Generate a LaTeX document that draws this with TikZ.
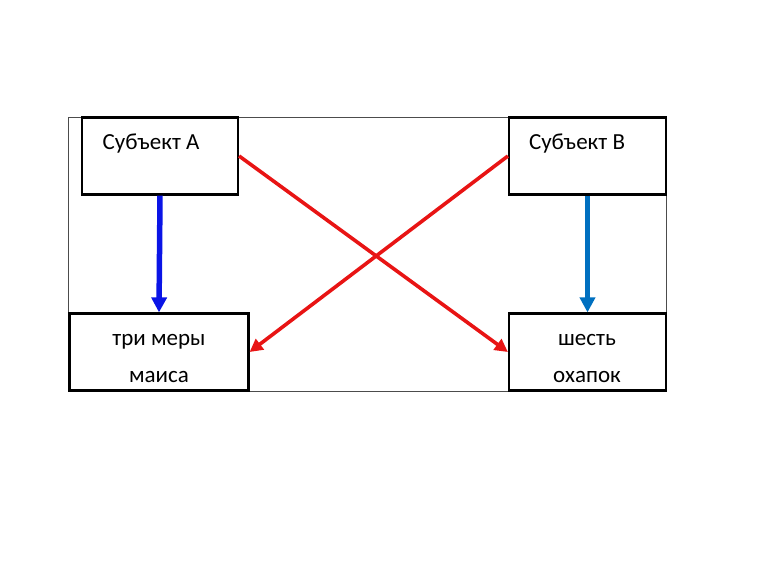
\documentclass[tikz,border=0pt]{standalone}
\usepackage{fontspec}
\setmainfont{Carlito}
\usetikzlibrary{arrows.meta}
\definecolor{darkblue}{RGB}{10,20,230}
\definecolor{steelblue}{RGB}{0,112,192}
\definecolor{redline}{RGB}{232,20,20}
\begin{document}
\begin{tikzpicture}[x=1pt,y=-1pt,
  box/.style={draw=black,line width=2.2pt,minimum width=#1,minimum height=77pt,inner sep=0pt},
  lbl/.style={font=\fontsize{23}{27}\selectfont,inner sep=0pt},
  bluearrow/.style={line width=5.5pt,-{Triangle[width=15pt,length=15pt]}},
  redarrow/.style={line width=3.6pt,-{Triangle[width=13pt,length=13pt]}}]
\useasboundingbox (0,0) rectangle (771,573);
\node (frame) [draw=black!70,line width=0.9pt,minimum width=598pt,minimum height=274pt,inner sep=0pt] at (367,254) {};
\node (A) [box=156pt] at (160,156) {};
\node (B) [box=157pt] at (587.5,156) {};
\node (C) [box=179pt] at (159,352) {};
\node (D) [box=157pt] at (587.5,352) {};
\node (tA) [lbl] at (151,144) {Субъект А};
\node (tB) [lbl] at (577,144) {Субъект В};
\node (tC1) [lbl] at (159,342) {три меры};
\node (tC2) [lbl] at (159,377) {маиса};
\node (tD1) [lbl] at (587,340) {шесть};
\node (tD2) [lbl] at (587,377) {охапок};
\draw[bluearrow,darkblue] (A.south) -- (C.north);
\draw[bluearrow,steelblue] (B.south) -- (D.north);
\draw[redarrow,redline] (A.east) -- (D.west);
\draw[redarrow,redline] (B.west) -- (C.east);
\end{tikzpicture}
\end{document}
